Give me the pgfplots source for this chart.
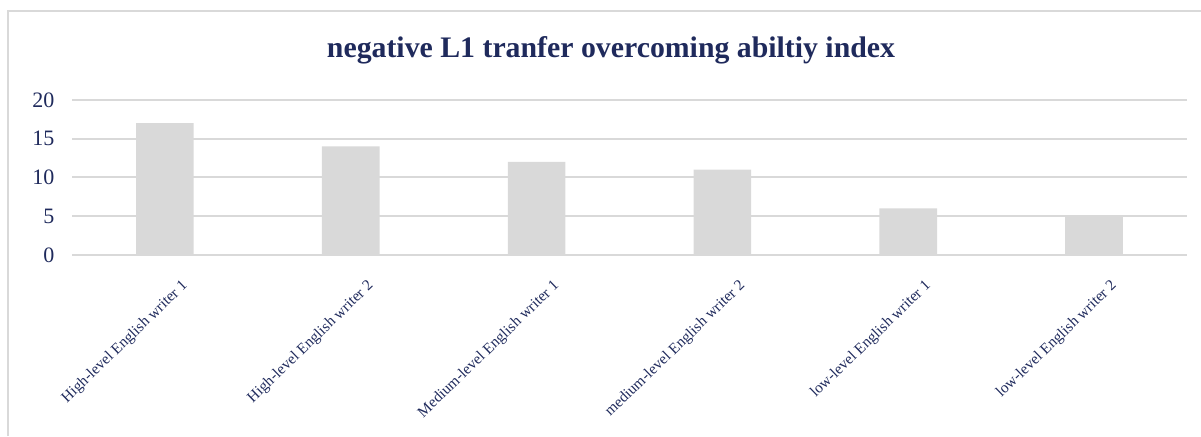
\documentclass[border=0pt]{standalone}
\usepackage{fontspec}
\setmainfont{Liberation Serif}
\usepackage{pgfplots}
\pgfplotsset{compat=1.18}
\definecolor{navy}{HTML}{1F2A5C}
\definecolor{bargray}{HTML}{D9D9D9}
\definecolor{gridgray}{HTML}{D9D9D9}
\begin{document}
\begin{tikzpicture}[x=1pt,y=1pt]
\useasboundingbox (0,0) rectangle (1201,436);
\draw[gridgray, line width=2pt] (8,0) -- (8,425) -- (1201,425);
\node[font=\bfseries\fontsize{29.8}{33}\selectfont, text=navy, anchor=base, inner sep=0pt] at (611,378) {negative L1 tranfer overcoming abiltiy index};
\begin{axis}[
  at={(72pt,181pt)}, anchor=south west,
  scale only axis, width=1115pt, height=155pt,
  xmin=-0.5, xmax=5.5, ymin=0, ymax=20,
  ytick={0,5,10,15,20},
  xtick={0,1,2,3,4,5},
  xticklabels={High-level English writer 1, High-level English writer 2, Medium-level English writer 1, medium-level English writer 2, low-level English writer 1, low-level English writer 2},
  axis line style={draw=none},
  major tick length=0pt,
  ymajorgrids, grid style={gridgray, line width=2pt},
  /pgf/number format/assume math mode=true,
  yticklabel style={font=\fontsize{22}{24}\selectfont, text=navy, anchor=east, xshift=-14pt},
  xticklabel style={font=\fontsize{15.3}{17}\selectfont, text=navy, rotate=44, anchor=east, yshift=-35pt, xshift=-2pt},
  clip=false,
]
\addplot[ybar, fill=bargray, draw=none, bar width=0.31] coordinates {(0,17) (1,14) (2,12) (3,11) (4,6) (5,5)};
\end{axis}
\end{tikzpicture}
\end{document}
